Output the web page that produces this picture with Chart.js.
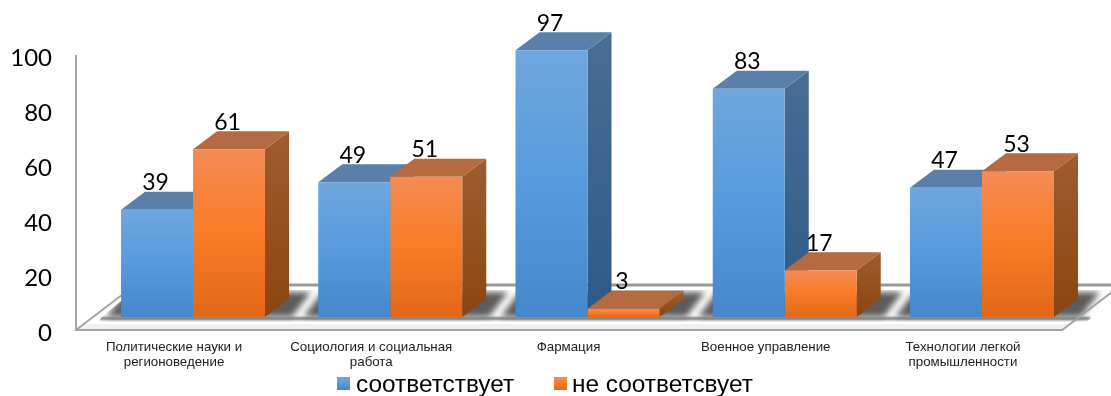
<!DOCTYPE html>
<html>
<head>
<meta charset="utf-8">
<style>
  html, body { margin: 0; padding: 0; background: #fff; }
  #wrap { width: 1111px; height: 396px; }
</style>
<script src="https://cdn.jsdelivr.net/npm/chart.js@4/dist/chart.umd.min.js"></script>
</head>
<body>
<div id="wrap"><canvas id="myChart" width="1111" height="396"></canvas></div>
<script>
// data //
const categories = [
    ['Политические науки и', 'регионоведение'],
    ['Социология и социальная', 'работа'],
    'Фармация',
    'Военное управление',
    ['Технологии легкой', 'промышленности']
];
const seriesNames = ['соответствует', 'не соответсвует'];
const matches = [39, 49, 97, 83, 47];
const notMatches = [61, 51, 3, 17, 53];
const yTicks = [0, 20, 40, 60, 80, 100];

// colours of the faces //
const blue = { front: ['#70a6de', '#559bdd', '#4588cb'], top: '#5a7fa9', side: ['#4a6d94', '#2c5a88'] };
const orange = { front: ['#f58c55', '#f97b26', '#e16818'], top: '#b56a41', side: ['#9e5c30', '#8c4510'] };
const depthX = 24, depthY = -18;

function frontGradient(context, colors) {
    const c = context.chart;
    if (!c.chartArea || context.raw === undefined) return colors[1];
    const g = c.ctx.createLinearGradient(0, c.scales.y.getPixelForValue(context.raw), 0, c.scales.y.getPixelForValue(0));
    g.addColorStop(0, colors[0]);
    g.addColorStop(0.5, colors[1]);
    g.addColorStop(1, colors[2]);
    return g;
}

function drawFloor(chart) {
    const ctx = chart.ctx, area = chart.chartArea;
    const y0 = chart.scales.y.getPixelForValue(0);
    const left = area.left - 18.4, right = area.right - 18.4;
    const front = y0 + 13, back = y0 - 32, run = 59;
    const first = chart.getDatasetMeta(0).data, second = chart.getDatasetMeta(1).data;

    ctx.save();
    // pale band along the front edge
    ctx.fillStyle = '#f1f1f1';
    ctx.beginPath();
    ctx.moveTo(left, front);
    ctx.lineTo(right, front);
    ctx.lineTo(right + 8, front - 6);
    ctx.lineTo(left + 8, front - 6);
    ctx.closePath();
    ctx.fill();

    // shadows of the bars on the floor
    ctx.save();
    ctx.beginPath();
    ctx.moveTo(left + 20, y0 + 5);
    ctx.lineTo(right + 24, y0 + 5);
    ctx.lineTo(right + 65, y0 - 27);
    ctx.lineTo(left + 58, y0 - 27);
    ctx.closePath();
    ctx.clip();
    ctx.filter = 'blur(3px)';
    ctx.fillStyle = '#5c5c5c';
    first.forEach(function (bar, i) {
        const x0 = bar.x - bar.width / 2, x1 = second[i].x + second[i].width / 2;
        ctx.beginPath();
        ctx.moveTo(x0 - 15, y0);
        ctx.lineTo(x1 + 27, y0);
        ctx.lineTo(x1 + 46, y0 - 25);
        ctx.lineTo(x0 + 4, y0 - 25);
        ctx.closePath();
        ctx.fill();
    });
    ctx.filter = 'blur(1px)';
    ctx.fillStyle = '#777';
    ctx.fillRect(left + 24, y0, right - left + 4, 3);
    ctx.restore();

    // frame lines
    ctx.strokeStyle = '#a3a3a3';
    ctx.lineWidth = 2;
    ctx.beginPath();
    ctx.moveTo(left, chart.scales.y.getPixelForValue(100) + 13);
    ctx.lineTo(left, front);
    ctx.lineTo(right, front);
    ctx.lineTo(right + run, back);
    ctx.moveTo(left, front);
    ctx.lineTo(left + run, back);
    ctx.stroke();
    ctx.strokeStyle = '#989898';
    ctx.lineWidth = 3;
    ctx.beginPath();
    ctx.moveTo(left + run, back);
    ctx.lineTo(right + run, back);
    ctx.stroke();
    ctx.restore();
}

function drawDepth(ctx, bar, colors) {
    const x0 = bar.x - bar.width / 2, x1 = bar.x + bar.width / 2;
    const top = Math.min(bar.y, bar.base), base = Math.max(bar.y, bar.base);

    const side = ctx.createLinearGradient(0, top + depthY, 0, base);
    side.addColorStop(0, colors.side[0]);
    side.addColorStop(1, colors.side[1]);
    ctx.fillStyle = side;
    ctx.beginPath();
    ctx.moveTo(x1, top);
    ctx.lineTo(x1 + depthX, top + depthY);
    ctx.lineTo(x1 + depthX, base + depthY);
    ctx.lineTo(x1, base);
    ctx.closePath();
    ctx.fill();

    ctx.fillStyle = colors.top;
    ctx.beginPath();
    ctx.moveTo(x0, top);
    ctx.lineTo(x1, top);
    ctx.lineTo(x1 + depthX, top + depthY);
    ctx.lineTo(x0 + depthX, top + depthY);
    ctx.closePath();
    ctx.fill();
}

function drawLegend(chart) {
    const ctx = chart.ctx;
    const items = [
        { box: 337, text: 356, colors: blue.front },
        { box: 554, text: 572, colors: orange.front }
    ];
    ctx.save();
    ctx.textAlign = 'left';
    ctx.textBaseline = 'alphabetic';
    ctx.font = '24.4px "Liberation Sans"';
    items.forEach(function (item, i) {
        const g = ctx.createLinearGradient(0, 377, 0, 390);
        g.addColorStop(0, item.colors[0]);
        g.addColorStop(0.5, item.colors[1]);
        g.addColorStop(1, item.colors[2]);
        ctx.fillStyle = g;
        ctx.fillRect(item.box, 377, 13, 13);
        ctx.fillStyle = '#000';
        ctx.fillText(seriesNames[i], item.text, 392);
    });
    ctx.restore();
}

const bars3d = {
    id: 'bars3d',
    beforeDatasetsDraw(chart) {
        drawFloor(chart);
        const ctx = chart.ctx;
        chart.getDatasetMeta(0).data.forEach(b => drawDepth(ctx, b, blue));
        chart.getDatasetMeta(1).data.forEach(b => drawDepth(ctx, b, orange));
    },
    afterDatasetsDraw(chart) {
        const ctx = chart.ctx;
        ctx.save();
        ctx.font = '23px Lato';
        ctx.fillStyle = '#000';
        ctx.textAlign = 'center';
        ctx.textBaseline = 'middle';
        chart.data.datasets.forEach(function (ds, d) {
            chart.getDatasetMeta(d).data.forEach(function (bar, i) {
                ctx.fillText(ds.data[i], bar.x - 1.5, bar.y - 27);
            });
        });
        ctx.restore();
        drawLegend(chart);
    }
};

new Chart(document.getElementById('myChart'), {
    type: 'bar',
    data: {
        labels: categories,
        datasets: [
            { label: seriesNames[0], data: matches, backgroundColor: c => frontGradient(c, blue.front) },
            { label: seriesNames[1], data: notMatches, backgroundColor: c => frontGradient(c, orange.front) }
        ]
    },
    options: {
        responsive: false,
        animation: false,
        categoryPercentage: 0.73,
        barPercentage: 1,
        layout: { padding: { top: 42, right: 30.4, left: 0, bottom: 0 } },
        plugins: {
            legend: { display: false },
            tooltip: { enabled: false }
        },
        scales: {
            x: {
                grid: { display: false },
                border: { display: false },
                afterFit: s => { s.height = 79; s.paddingLeft = 0; s.paddingRight = 0; },
                ticks: {
                    autoSkip: false,
                    maxRotation: 0,
                    labelOffset: -19,
                    padding: 15,
                    color: '#222',
                    font: { family: '"Liberation Sans"', size: 13.3, lineHeight: 1.13 }
                }
            },
            y: {
                min: 0,
                max: 100,
                afterBuildTicks: s => { s.ticks = yTicks.map(v => ({ value: v })); },
                afterFit: s => { s.width = 94.4; s.paddingTop = 0; s.paddingBottom = 0; },
                grid: { display: false },
                border: { display: false },
                ticks: {
                    labelOffset: 16,
                    padding: 34.4,
                    color: '#000',
                    font: { family: 'Lato', size: 24 }
                }
            }
        }
    },
    plugins: [bars3d]
});
</script>
</body>
</html>
